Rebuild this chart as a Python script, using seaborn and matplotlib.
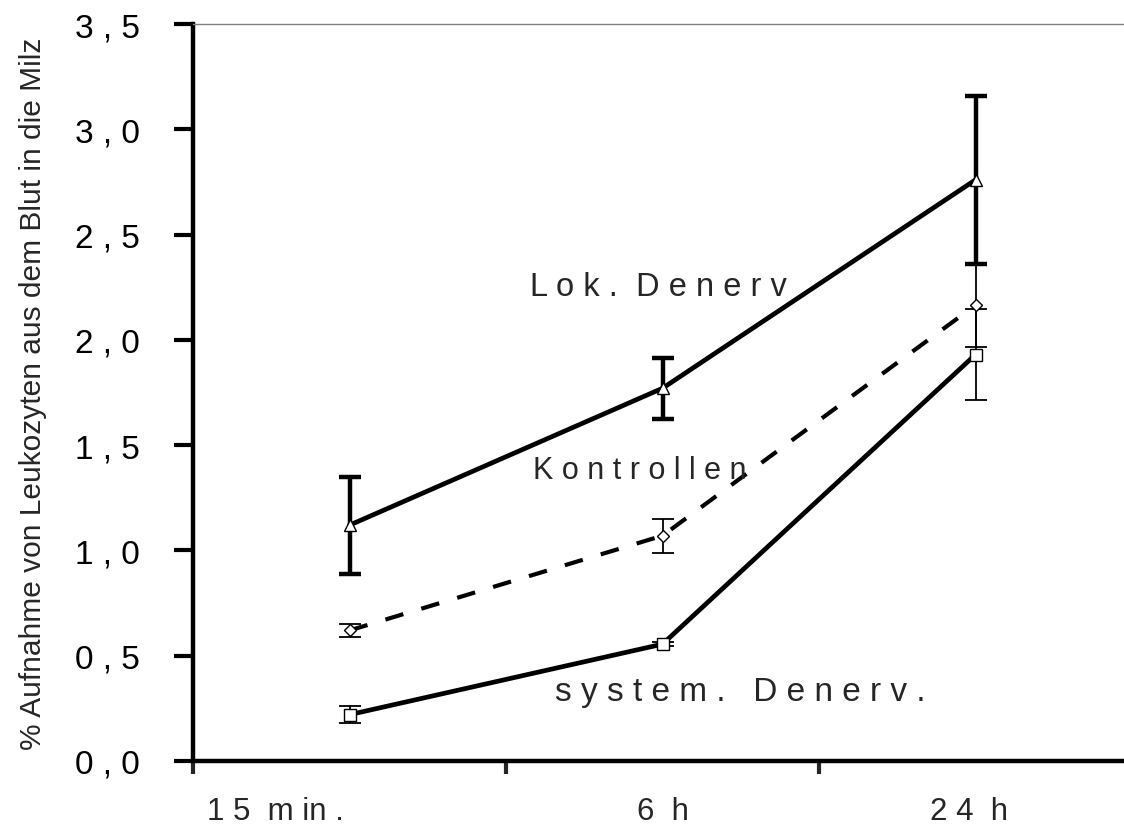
import matplotlib
matplotlib.use("Agg")
import matplotlib.pyplot as plt
import matplotlib.transforms as mtransforms
import seaborn as sns
import pandas as pd
import numpy as np

# ---- data ----
categories = ["15 min.", "6 h", "24 h"]
tick_labels = ["1 5  m in .", "6  h", "2 4  h"]
lok_mean = [1.12, 1.77, 2.76]
lok_err = [0.23, 0.145, 0.40]
kon_mean = [0.62, 1.07, 2.165]
kon_err = [0.03, 0.08, 0.20]
sys_mean = [0.22, 0.555, 1.93]
sys_err = [0.04, 0.01, 0.215]
y_ticks = [0.0, 0.5, 1.0, 1.5, 2.0, 2.5, 3.0, 3.5]
y_tick_labels = ["0 , 0", "0 , 5", "1 , 0", "1 , 5", "2 , 0", "2 , 5", "3 , 0", "3 , 5"]
series_labels = ["L o k .  D e n e r v", "K o n t r o l l e n", "s y s t e m .   D e n e r v ."]

sns.set_style("white")
plt.rcParams['font.family'] = ['Liberation Sans', 'DejaVu Sans']

fig = plt.figure(figsize=(11.24, 8.29), dpi=100)
ax = fig.add_axes([193/1124, (829-762)/829, (1132-193)/1124, (762-25)/829])

x = np.arange(len(categories))
df = pd.DataFrame({"x": np.tile(x, 3),
                   "y": lok_mean + kon_mean + sys_mean,
                   "grp": ["lok"]*3 + ["kon"]*3 + ["sys"]*3})

# error bars
ax.errorbar(x, lok_mean, yerr=lok_err, fmt='none', ecolor='black', elinewidth=3.2,
            capsize=8, capthick=3.2, zorder=2)
ax.errorbar(x, kon_mean, yerr=kon_err, fmt='none', ecolor='black', elinewidth=1.3,
            capsize=8, capthick=1.3, zorder=2)
ax.errorbar(x, sys_mean, yerr=sys_err, fmt='none', ecolor='black', elinewidth=1.3,
            capsize=8, capthick=1.3, zorder=2)

# lines
sns.lineplot(data=df[df.grp == "lok"], x="x", y="y", ax=ax, color='black', lw=3.4,
             marker='^', markersize=8, markerfacecolor='white', markeredgecolor='black',
             markeredgewidth=1.0, zorder=3)
sns.lineplot(data=df[df.grp == "kon"], x="x", y="y", ax=ax, color='black', lw=3.0,
             marker='D', markersize=6.5, markerfacecolor='white', markeredgecolor='black',
             markeredgewidth=1.0, zorder=3)
ax.lines[-1].set_dashes((4.5, 4.5))
sns.lineplot(data=df[df.grp == "sys"], x="x", y="y", ax=ax, color='black', lw=3.4,
             marker='s', markersize=8, markerfacecolor='white', markeredgecolor='black',
             markeredgewidth=1.0, zorder=3)

# series labels
ax.text(0.577, 2.255, series_labels[0], fontsize=23.5, va='center', ha='left')
ax.text(0.586, 1.382, series_labels[1], fontsize=22, va='center', ha='left')
ax.text(0.657, 0.328, series_labels[2], fontsize=24, va='center', ha='left')

ax.set_xlim(-0.5, 2.5)
ax.set_ylim(0, 3.5)

ax.set_yticks(y_ticks)
ax.set_yticklabels(y_tick_labels, fontsize=24)
ax.tick_params(axis='y', which='major', direction='out', length=14, width=3,
               left=True, pad=24, colors='black')

ax.set_xticks(x)
ax.set_xticklabels(tick_labels, fontsize=22.5)
ax.tick_params(axis='x', which='major', length=0, pad=25)
ax.set_xticks([-0.5, 0.5, 1.5, 2.5], minor=True)
ax.tick_params(axis='x', which='minor', direction='out', length=9, width=3, bottom=True)
# first label sits left of its category in the reference
xl = ax.get_xticklabels()
xl[0].set_transform(xl[0].get_transform() + mtransforms.ScaledTranslation(-74/100, 0, fig.dpi_scale_trans))
xl[2].set_transform(xl[2].get_transform() + mtransforms.ScaledTranslation(-6/100, 0, fig.dpi_scale_trans))

ax.set_xlabel("")
ax.set_ylabel("% Aufnahme von Leukozyten aus dem Blut in die Milz", fontsize=21.5, labelpad=0)
ax.yaxis.set_label_coords(-(193-47)/939, 0.5)

for s in ['left', 'bottom']:
    ax.spines[s].set_linewidth(3.2)
    ax.spines[s].set_color('black')
ax.spines['top'].set_linewidth(1.0)
ax.spines['top'].set_color('#808080')
ax.spines['right'].set_visible(False)
ax.grid(False)
for l in ax.lines:
    l.set_clip_on(False)

fig.savefig("out.png", dpi=100)
